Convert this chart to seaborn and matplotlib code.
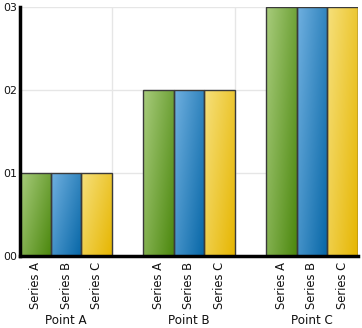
import numpy as np
import pandas as pd
import matplotlib
matplotlib.use("Agg")
import matplotlib.pyplot as plt
import seaborn as sns
from matplotlib.colors import LinearSegmentedColormap

points = ["Point A", "Point B", "Point C"]
series = ["Series A", "Series B", "Series C"]
series_a = [1, 2, 3]
series_b = [1, 2, 3]
series_c = [1, 2, 3]
y_ticks = [0, 1, 2, 3]
y_labels = ["00", "01", "02", "03"]

values = {"Series A": series_a, "Series B": series_b, "Series C": series_c}
df = pd.DataFrame(
    [(p, s, values[s][i]) for s in series for i, p in enumerate(points)],
    columns=["point", "series", "value"],
)

# gradient (light top-left -> dark bottom-right)
grads = {
    "Series A": ("#a8cc7c", "#4c880e"),
    "Series B": ("#70b0e0", "#0666a6"),
    "Series C": ("#f6e07c", "#e6b602"),
}
base = {s: grads[s][1] for s in series}

sns.set_theme(style="white")
plt.rcParams["font.family"] = ["DejaVu Sans"]

fig = plt.figure(figsize=(3.62, 3.28), dpi=100)
ax = fig.add_axes([20 / 362, 72 / 328, 338 / 362, 249 / 328])

sns.barplot(
    data=df, x="point", y="value", hue="series",
    order=points, hue_order=series, width=0.75,
    palette=base, saturation=1, edgecolor="#3a3a3a", linewidth=1,
    ax=ax, legend=False, errorbar=None,
)

n = 64
xx, yy = np.meshgrid(np.linspace(0, 1, n), np.linspace(0, 1, n))
t = 0.6 * xx + 0.4 * (1 - yy)

centers = []
labels = []
for s, cont in zip(series, ax.containers):
    cmap = LinearSegmentedColormap.from_list(s, list(grads[s]))
    for bar in cont:
        x0, y0 = bar.get_x(), bar.get_y()
        w, h = bar.get_width(), bar.get_height()
        bar.set_facecolor("none")
        bar.set_zorder(3)
        im = ax.imshow(t, extent=[x0, x0 + w, y0, y0 + h], origin="lower",
                       cmap=cmap, vmin=0, vmax=1, aspect="auto", zorder=2,
                       interpolation="bilinear")
        im.set_clip_path(bar)
        centers.append(x0 + w / 2)
        labels.append(s)

# grid
for yv in y_ticks[1:]:
    ax.axhline(yv, color="#e6e6e6", linewidth=1, zorder=1)
for i in range(len(points)):
    ax.axvline(i + 0.375, color="#e6e6e6", linewidth=1, zorder=1)

ax.set_xlim(-0.375, len(points) - 1 + 0.375)
ax.set_ylim(0, 3)
ax.set_yticks(y_ticks)
ax.set_yticklabels(y_labels, fontsize=7.8, color="#111111")
ax.set_xticks(centers)
ax.set_xticklabels(labels, rotation=90, fontsize=8.3, color="#111111")
ax.tick_params(axis="both", length=0, pad=2)
ax.tick_params(axis="x", pad=4)
ax.set_xlabel("")
ax.set_ylabel("")

for i, p in enumerate(points):
    ax.text(i, -(320 - 256) / 249, p, transform=ax.get_xaxis_transform(),
            ha="center", va="center", fontsize=8.6, color="#111111")

for side in ["top", "right"]:
    ax.spines[side].set_visible(False)
for side in ["left", "bottom"]:
    ax.spines[side].set_color("#000000")
    ax.spines[side].set_linewidth(2.5)
    ax.spines[side].set_zorder(5)

fig.savefig("out.png", dpi=100)
